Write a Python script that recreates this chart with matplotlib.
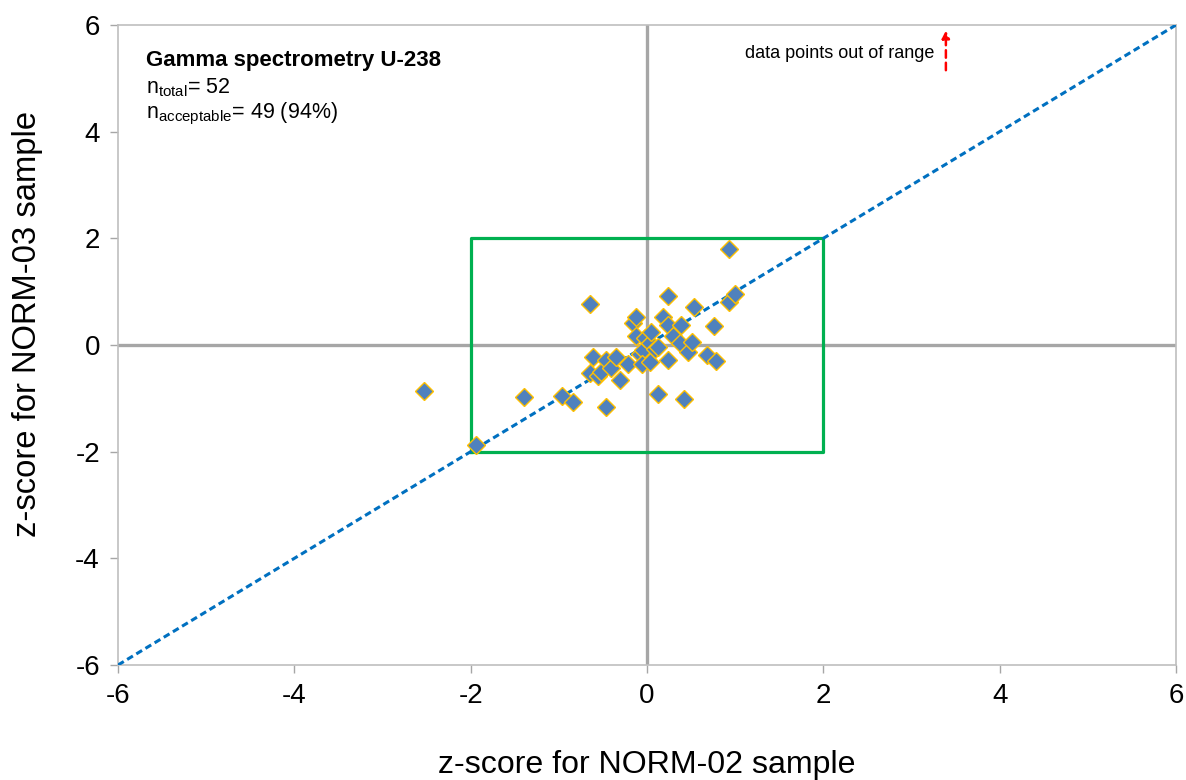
import matplotlib
matplotlib.use("Agg")
import matplotlib.pyplot as plt

plt.rcParams['font.family'] = ['Liberation Sans', 'DejaVu Sans']
plt.rcParams['mathtext.fontset'] = 'custom'
plt.rcParams['mathtext.rm'] = 'Liberation Sans'
plt.rcParams['mathtext.it'] = 'Liberation Sans'
plt.rcParams['mathtext.bf'] = 'Liberation Sans:bold'
plt.rcParams['axes.unicode_minus'] = False

# z-scores (NORM-02 on x, NORM-03 on y)
z_norm02 = [-2.53, -1.94, -1.40, -0.96, -0.84, -0.65, -0.61, -0.65, -0.56, -0.52,
            -0.47, -0.46, -0.41, -0.35, -0.31, -0.21, -0.16, -0.13, -0.13, -0.08,
            -0.05, -0.06, -0.02, 0.03, 0.04, 0.03, 0.09, 0.13, 0.12, 0.185,
            0.24, 0.24, 0.24, 0.29, 0.38, 0.37, 0.42, 0.47, 0.51, 0.53,
            0.68, 0.76, 0.78, 0.93, 0.93, 1.00]
z_norm03 = [-0.86, -1.88, -0.97, -0.96, -1.07, 0.77, -0.23, -0.52, -0.59, -0.50,
            -1.17, -0.28, -0.43, -0.23, -0.65, -0.36, 0.42, 0.52, 0.17, -0.17,
            -0.09, -0.36, 0.13, 0.03, 0.24, -0.31, -0.08, -0.03, -0.91, 0.52,
            0.92, 0.375, -0.28, 0.16, 0.375, 0.03, -1.01, -0.13, 0.06, 0.72,
            -0.19, 0.36, -0.30, 1.80, 0.81, 0.96]

axis_ticks = [-6, -4, -2, 0, 2, 4, 6]
acceptable_limit = 2
title_text = "Gamma spectrometry U-238"
n_total = 52
n_acceptable = 49
pct_acceptable = 94

fig = plt.figure(figsize=(11.86, 7.80), dpi=100)
ax = fig.add_axes([118/1186, 1 - 665/780, (1176-118)/1186, (665-25)/780])

ax.set_xlim(-6, 6)
ax.set_ylim(-6, 6)
ax.set_xticks(axis_ticks)
ax.set_yticks(axis_ticks)
ax.tick_params(direction='out', length=6, width=1, color='#A6A6A6',
               labelsize=20, pad=7)
for s in ax.spines.values():
    s.set_color('#BFBFBF')
    s.set_linewidth(1.2)

# zero lines
ax.axhline(0, color='#A6A6A6', lw=2.4, zorder=1)
ax.axvline(0, color='#A6A6A6', lw=2.4, zorder=1)

# acceptance box
L = acceptable_limit
ax.plot([-L, L, L, -L, -L], [-L, -L, L, L, -L], color='#00B050', lw=2.3, zorder=2)

# diagonal
ax.plot([-6, 6], [-6, 6], color='#0070C0', lw=2.2, ls=(0, (2.2, 1.3)), zorder=3)

# points
ax.plot(z_norm02, z_norm03, ls='none', marker='D', ms=9.5,
        markerfacecolor='#4F81BD', markeredgecolor='#FFC000', markeredgewidth=1.0,
        zorder=4, clip_on=False)

# out-of-range arrow
ax.annotate('', xy=(3.39, 5.95), xytext=(3.39, 5.1),
            arrowprops=dict(arrowstyle='-|>', color='#FF0000', lw=1.8,
                            ls=(0, (3, 2)), mutation_scale=11))
ax.text(3.26, 5.47, 'data points out of range', ha='right', va='center', fontsize=13)

ax.text(-5.68, 5.34, title_text, fontsize=16, fontweight='bold', ha='left', va='center')
ax.text(-5.68, 4.82, r'n$_{\mathregular{total}}$= %d' % n_total, fontsize=15.5,
        ha='left', va='center')
ax.text(-5.68, 4.33, r'n$_{\mathregular{acceptable}}$= %d (%d%%)' % (n_acceptable, pct_acceptable),
        fontsize=15.5, ha='left', va='center')

fig.text(647/1186, 1 - 765/780, 'z-score for NORM-02 sample', ha='center', va='center',
         fontsize=23.1)
fig.text(28/1186, 1 - 324/780, 'z-score for NORM-03 sample', ha='center', va='center',
         fontsize=23.6, rotation=90)

fig.savefig('out.png', dpi=100)
